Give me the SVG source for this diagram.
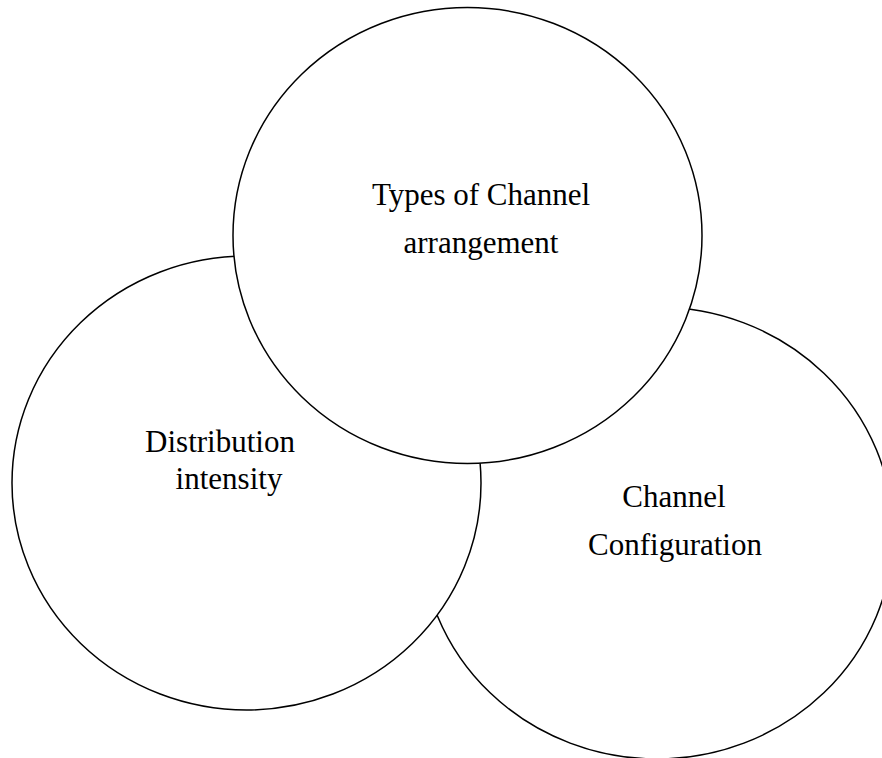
<svg xmlns="http://www.w3.org/2000/svg" width="882" height="758" viewBox="0 0 882 758">
<style>
.c{fill:#fff;stroke:#000;stroke-width:1.5}
.t{font-family:"Liberation Serif","Times New Roman",serif;font-size:31px;fill:#000;text-anchor:middle}
</style>
<rect width="882" height="758" fill="#fff"/>
<g id="connectors"></g>
<g id="channel-configuration">
<ellipse class="c" cx="657" cy="533" rx="236" ry="226"/>
<text class="t" x="674" y="507">Channel</text>
<text class="t" x="675" y="555">Configuration</text>
</g>
<g id="distribution-intensity">
<ellipse class="c" cx="246.5" cy="483" rx="234.5" ry="227"/>
<text class="t" x="220" y="452">Distribution</text>
<text class="t" x="229" y="489">intensity</text>
</g>
<g id="types-of-channel-arrangement">
<ellipse class="c" cx="467.5" cy="235.5" rx="234.5" ry="228"/>
<text class="t" x="481" y="205">Types of Channel</text>
<text class="t" x="481" y="253">arrangement</text>
</g>
</svg>
